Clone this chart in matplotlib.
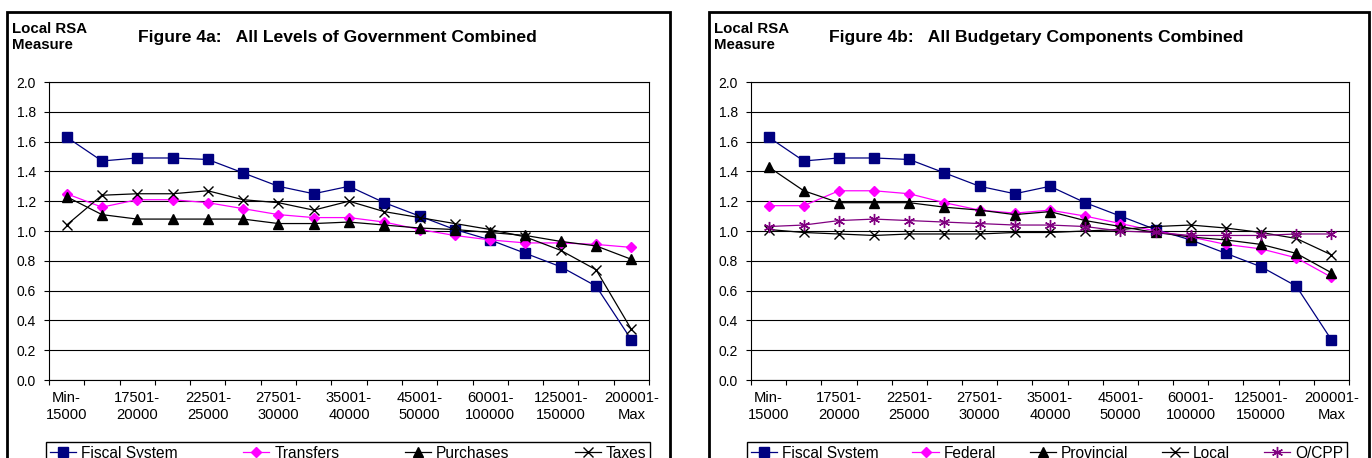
import matplotlib
matplotlib.use("Agg")
import matplotlib.pyplot as plt
from matplotlib.patches import Rectangle

plt.rcParams["font.family"] = ["Liberation Sans", "DejaVu Sans"]

# income bands (17 categories, every other one labelled)
categories = ["Min-15000", "15001-17500", "17501-20000", "20001-22500", "22501-25000",
              "25001-27500", "27501-30000", "30001-35000", "35001-40000", "40001-45000",
              "45001-50000", "50001-60000", "60001-100000", "100001-125000",
              "125001-150000", "150001-200000", "200001-Max"]
tick_labels = ["Min-\n15000", "17501-\n20000", "22501-\n25000", "27501-\n30000",
               "35001-\n40000", "45001-\n50000", "60001-\n100000", "125001-\n150000",
               "200001-\nMax"]

# Figure 4a
fiscal = [1.63, 1.47, 1.49, 1.49, 1.48, 1.39, 1.30, 1.25, 1.30, 1.19, 1.10, 1.01, 0.94, 0.85, 0.76, 0.63, 0.27]
transfers = [1.25, 1.16, 1.21, 1.21, 1.19, 1.15, 1.11, 1.09, 1.09, 1.06, 1.01, 0.97, 0.94, 0.92, 0.92, 0.91, 0.89]
purchases = [1.23, 1.11, 1.08, 1.08, 1.08, 1.08, 1.05, 1.05, 1.06, 1.04, 1.02, 1.01, 0.99, 0.97, 0.93, 0.90, 0.81]
taxes = [1.04, 1.24, 1.25, 1.25, 1.27, 1.21, 1.19, 1.14, 1.20, 1.13, 1.09, 1.05, 1.01, 0.96, 0.87, 0.74, 0.34]

# Figure 4b
federal = [1.17, 1.17, 1.27, 1.27, 1.25, 1.19, 1.14, 1.12, 1.14, 1.10, 1.05, 1.00, 0.96, 0.91, 0.88, 0.82, 0.69]
provincial = [1.43, 1.27, 1.19, 1.19, 1.19, 1.16, 1.14, 1.11, 1.13, 1.07, 1.03, 0.99, 0.96, 0.94, 0.91, 0.85, 0.72]
local = [1.01, 0.99, 0.98, 0.97, 0.98, 0.98, 0.98, 0.99, 0.99, 1.00, 1.01, 1.03, 1.04, 1.02, 0.99, 0.95, 0.84]
qcpp = [1.03, 1.04, 1.07, 1.08, 1.07, 1.06, 1.05, 1.04, 1.04, 1.03, 1.00, 0.99, 0.97, 0.97, 0.97, 0.98, 0.98]

W, H = 1372, 458
fig = plt.figure(figsize=(W / 100, H / 100), dpi=100)

NAVY = "#000080"
MAGENTA = "#FF00FF"
PURPLE = "#800080"

styles = {
    "Fiscal System": dict(color=NAVY, marker="s", ms=6.5, mfc=NAVY, mec=NAVY),
    "Transfers": dict(color=MAGENTA, marker="D", ms=5.5, mfc=MAGENTA, mec=MAGENTA),
    "Federal": dict(color=MAGENTA, marker="D", ms=5.5, mfc=MAGENTA, mec=MAGENTA),
    "Purchases": dict(color="black", marker="^", ms=7, mfc="black", mec="black"),
    "Provincial": dict(color="black", marker="^", ms=7, mfc="black", mec="black"),
    "Taxes": dict(color="black", marker="x", ms=7, mew=1),
    "Local": dict(color="black", marker="x", ms=7, mew=1),
    "Q/CPP": dict(color=PURPLE, marker=(6, 2, 0), ms=8, mew=1, mec=PURPLE),
}


def px_rect(x0, y0, x1, y1):
    """pixel box (top-left origin) -> figure fraction [l, b, w, h]"""
    return [x0 / W, 1 - y1 / H, (x1 - x0) / W, (y1 - y0) / H]


def make_panel(x0, x1, title_x, title, series, legend_x0, legend_x1, frame_x0, frame_x1):
    # outer chart frame
    fig.patches.append(Rectangle((frame_x0 / W, -0.05), (frame_x1 - frame_x0) / W,
                                 1 - 12 / H + 0.05, transform=fig.transFigure,
                                 fill=False, lw=2, ec="black", zorder=0))

    ax = fig.add_axes(px_rect(x0, 82, x1, 380))
    xs = list(range(len(categories)))
    handles = []
    for name, vals in series:
        h, = ax.plot(xs, vals, lw=0.9, label=name, clip_on=False, **styles[name])
        handles.append(h)

    ax.set_xlim(-0.5, len(categories) - 0.5)
    ax.set_ylim(0, 2.0)
    ax.set_yticks([i / 10 for i in range(0, 21, 2)])
    ax.set_yticklabels([f"{i / 10:.1f}" for i in range(0, 21, 2)])
    ax.yaxis.grid(True, color="black", lw=0.8)
    ax.set_axisbelow(True)

    ax.set_xticks(xs[::2])
    ax.set_xticklabels(tick_labels, linespacing=1.3)
    ax.set_xticks([i - 0.5 for i in range(len(categories) + 1)], minor=True)
    ax.tick_params(axis="x", which="major", length=0, pad=8, labelsize=10.6)
    ax.tick_params(axis="x", which="minor", length=3.5, width=0.8, direction="out")
    ax.tick_params(axis="y", length=3.5, width=0.8, pad=6, labelsize=10)
    for sp in ax.spines.values():
        sp.set_color("black")
        sp.set_linewidth(0.8)

    fig.text(title_x / W, 1 - 42 / H, title, fontsize=12.6, fontweight="bold", va="baseline")
    fig.text((frame_x0 + 5) / W, 1 - 22 / H, "Local RSA\nMeasure", fontsize=10.8,
             fontweight="bold", va="top", linespacing=1.2)

    leg = fig.legend(handles=handles, loc="upper left", ncol=len(handles),
                     bbox_to_anchor=(legend_x0 / W, 1 - 442 / H, (legend_x1 - legend_x0) / W, 0),
                     mode="expand", borderaxespad=0, fontsize=11.2, fancybox=False,
                     framealpha=1, edgecolor="black", handlelength=1.7, handletextpad=0.3,
                     borderpad=0.25, columnspacing=1.0)
    leg.get_frame().set_linewidth(1)
    return ax


make_panel(49, 649, 138, "Figure 4a:   All Levels of Government Combined",
           [("Fiscal System", fiscal), ("Transfers", transfers),
            ("Purchases", purchases), ("Taxes", taxes)],
           46, 650, 7, 670)

make_panel(751, 1349, 829, "Figure 4b:   All Budgetary Components Combined",
           [("Fiscal System", fiscal), ("Federal", federal), ("Provincial", provincial),
            ("Local", local), ("Q/CPP", qcpp)],
           747, 1347, 709, 1369)

fig.savefig("out.png", dpi=100)
